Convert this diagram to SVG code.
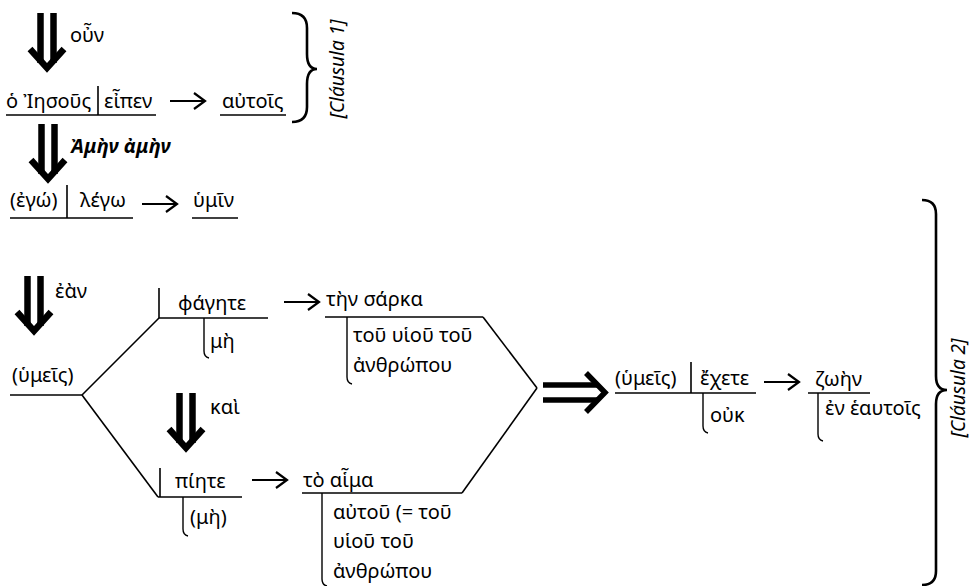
<svg xmlns="http://www.w3.org/2000/svg" width="972" height="586" viewBox="0 0 972 586">
<style>
.t{font-family:"Noto Sans","Open Sans",sans-serif;font-size:20px;fill:#000}
.bi{font-weight:bold;font-style:italic}
.cl{font-style:italic;font-size:19px}
.ln{stroke:#000;stroke-width:1.6;fill:none}
.ul{stroke:#000;stroke-width:1.6;fill:none}
.brk{stroke:#000;stroke-width:1.4;fill:none}
.brace{stroke:#000;stroke-width:2.6;fill:none}
.big{stroke:#000;stroke-width:6.5;fill:none;stroke-linejoin:miter}
.dbl{stroke:#000;stroke-width:5.5;fill:none;stroke-linejoin:miter}
</style>
<defs>
<g id="darrow">
<line class="big" x1="-6.5" y1="0" x2="-6.5" y2="50"/>
<line class="big" x1="6.5" y1="0" x2="6.5" y2="50"/>
<polyline class="big" points="-17,36 0,55 17,36"/>
</g>
<g id="sarrow">
<line x1="0" y1="0" x2="35" y2="0" stroke="#000" stroke-width="2"/>
<polyline points="24,-8 35,0 24,8" stroke="#000" stroke-width="2.2" fill="none"/>
</g>
</defs>

<g id="clause1">
<use href="#darrow" x="47" y="13"/>
<text class="t" x="70" y="42">οὖν</text>
<text class="t" x="6" y="108">ὁ Ἰησοῦς</text>
<line class="ln" x1="98" y1="86" x2="98" y2="115"/>
<text class="t" x="104" y="108">εἶπεν</text>
<line class="ul" x1="6" y1="115" x2="156" y2="115"/>
<use href="#sarrow" x="170" y="101"/>
<text class="t" x="222" y="108">αὐτοῖς</text>
<line class="ul" x1="220" y1="115" x2="286" y2="115"/>
<path class="brace" d="M292,13 Q307,13 307,28 V54 Q307,69 317,69 Q307,69 307,84 V107 Q307,122 292,122"/>
<text class="t cl" transform="translate(344,69) rotate(-90)" text-anchor="middle">[Cláusula 1]</text>
</g>

<g id="clause2a">
<use href="#darrow" x="48" y="124"/>
<text class="t bi" x="70" y="153">Ἀμὴν ἀμὴν</text>
<text class="t" x="10" y="207">(ἐγώ)</text>
<line class="ln" x1="67" y1="185" x2="67" y2="218"/>
<text class="t" x="80" y="207">λέγω</text>
<line class="ul" x1="10" y1="218" x2="133" y2="218"/>
<use href="#sarrow" x="142" y="204"/>
<text class="t" x="193" y="207">ὑμῖν</text>
<line class="ul" x1="192" y1="218" x2="238" y2="218"/>
</g>

<g id="condition">
<use href="#darrow" x="34" y="276"/>
<text class="t" x="55" y="298">ἐὰν</text>
<text class="t" x="12" y="382">(ὑμεῖς)</text>
<line class="ul" x1="10" y1="395" x2="82" y2="395"/>
</g>

<g id="branch1">
<line class="ln" x1="159" y1="288" x2="159" y2="318"/>
<text class="t" x="178" y="310">φάγητε</text>
<line class="ul" x1="159" y1="318" x2="268" y2="318"/>
<path class="brk" d="M204,318 V351 Q204,357 209,358"/>
<text class="t" x="210" y="348">μὴ</text>
<use href="#sarrow" x="284" y="302"/>
<text class="t" x="326" y="306">τὴν σάρκα</text>
<line class="ul" x1="325" y1="317" x2="483" y2="317"/>
<path class="brk" d="M347,317 V377 Q347,383 352,384"/>
<text class="t" x="353" y="342">τοῦ υἱοῦ τοῦ</text>
<text class="t" x="353" y="372">ἀνθρώπου</text>
</g>

<g id="branch2">
<use href="#darrow" x="186" y="393"/>
<text class="t" x="210" y="414">καὶ</text>
<line class="ln" x1="160" y1="468" x2="160" y2="497"/>
<text class="t" x="175" y="488">πίητε</text>
<line class="ul" x1="158" y1="497" x2="242" y2="497"/>
<path class="brk" d="M183,497 V529 Q183,535 188,536"/>
<text class="t" x="190" y="524">(μὴ)</text>
<use href="#sarrow" x="252" y="480"/>
<text class="t" x="303" y="487">τὸ αἷμα</text>
<line class="ul" x1="302" y1="493" x2="462" y2="493"/>
<path class="brk" d="M322,493 V579 Q322,585 327,586"/>
<text class="t" x="333" y="519">αὐτοῦ (= τοῦ</text>
<text class="t" x="333" y="548">υἱοῦ τοῦ</text>
<text class="t" x="333" y="578">ἀνθρώπου</text>
</g>

<g id="result">
<text class="t" x="615" y="385">(ὑμεῖς)</text>
<line class="ln" x1="691" y1="362" x2="691" y2="393"/>
<text class="t" x="700" y="385">ἔχετε</text>
<line class="ul" x1="615" y1="393" x2="756" y2="393"/>
<path class="brk" d="M703,393 V426 Q703,432 708,433"/>
<text class="t" x="710" y="422">οὐκ</text>
<use href="#sarrow" x="764" y="382"/>
<text class="t" x="815" y="386">ζωὴν</text>
<line class="ul" x1="808" y1="393" x2="870" y2="393"/>
<path class="brk" d="M818,393 V434 Q818,440 823,441"/>
<text class="t" x="825" y="415">ἐν ἑαυτοῖς</text>
<path class="brace" d="M922,200 Q936,200 936,214 V376 Q936,390 947,390 Q936,390 936,404 V571 Q936,585 922,585"/>
<text class="t cl" transform="translate(965,388) rotate(-90)" text-anchor="middle">[Cláusula 2]</text>
</g>

<g id="connectors">
<line class="ln" x1="82" y1="395" x2="159" y2="318"/>
<line class="ln" x1="82" y1="395" x2="158" y2="497"/>
<line class="ln" x1="483" y1="317" x2="537" y2="388"/>
<line class="ln" x1="462" y1="493" x2="537" y2="388"/>
<line class="dbl" x1="543" y1="385" x2="598" y2="385"/>
<line class="dbl" x1="543" y1="400" x2="598" y2="400"/>
<polyline class="dbl" points="586,373 605,392.5 586,412"/>
</g>
</svg>
